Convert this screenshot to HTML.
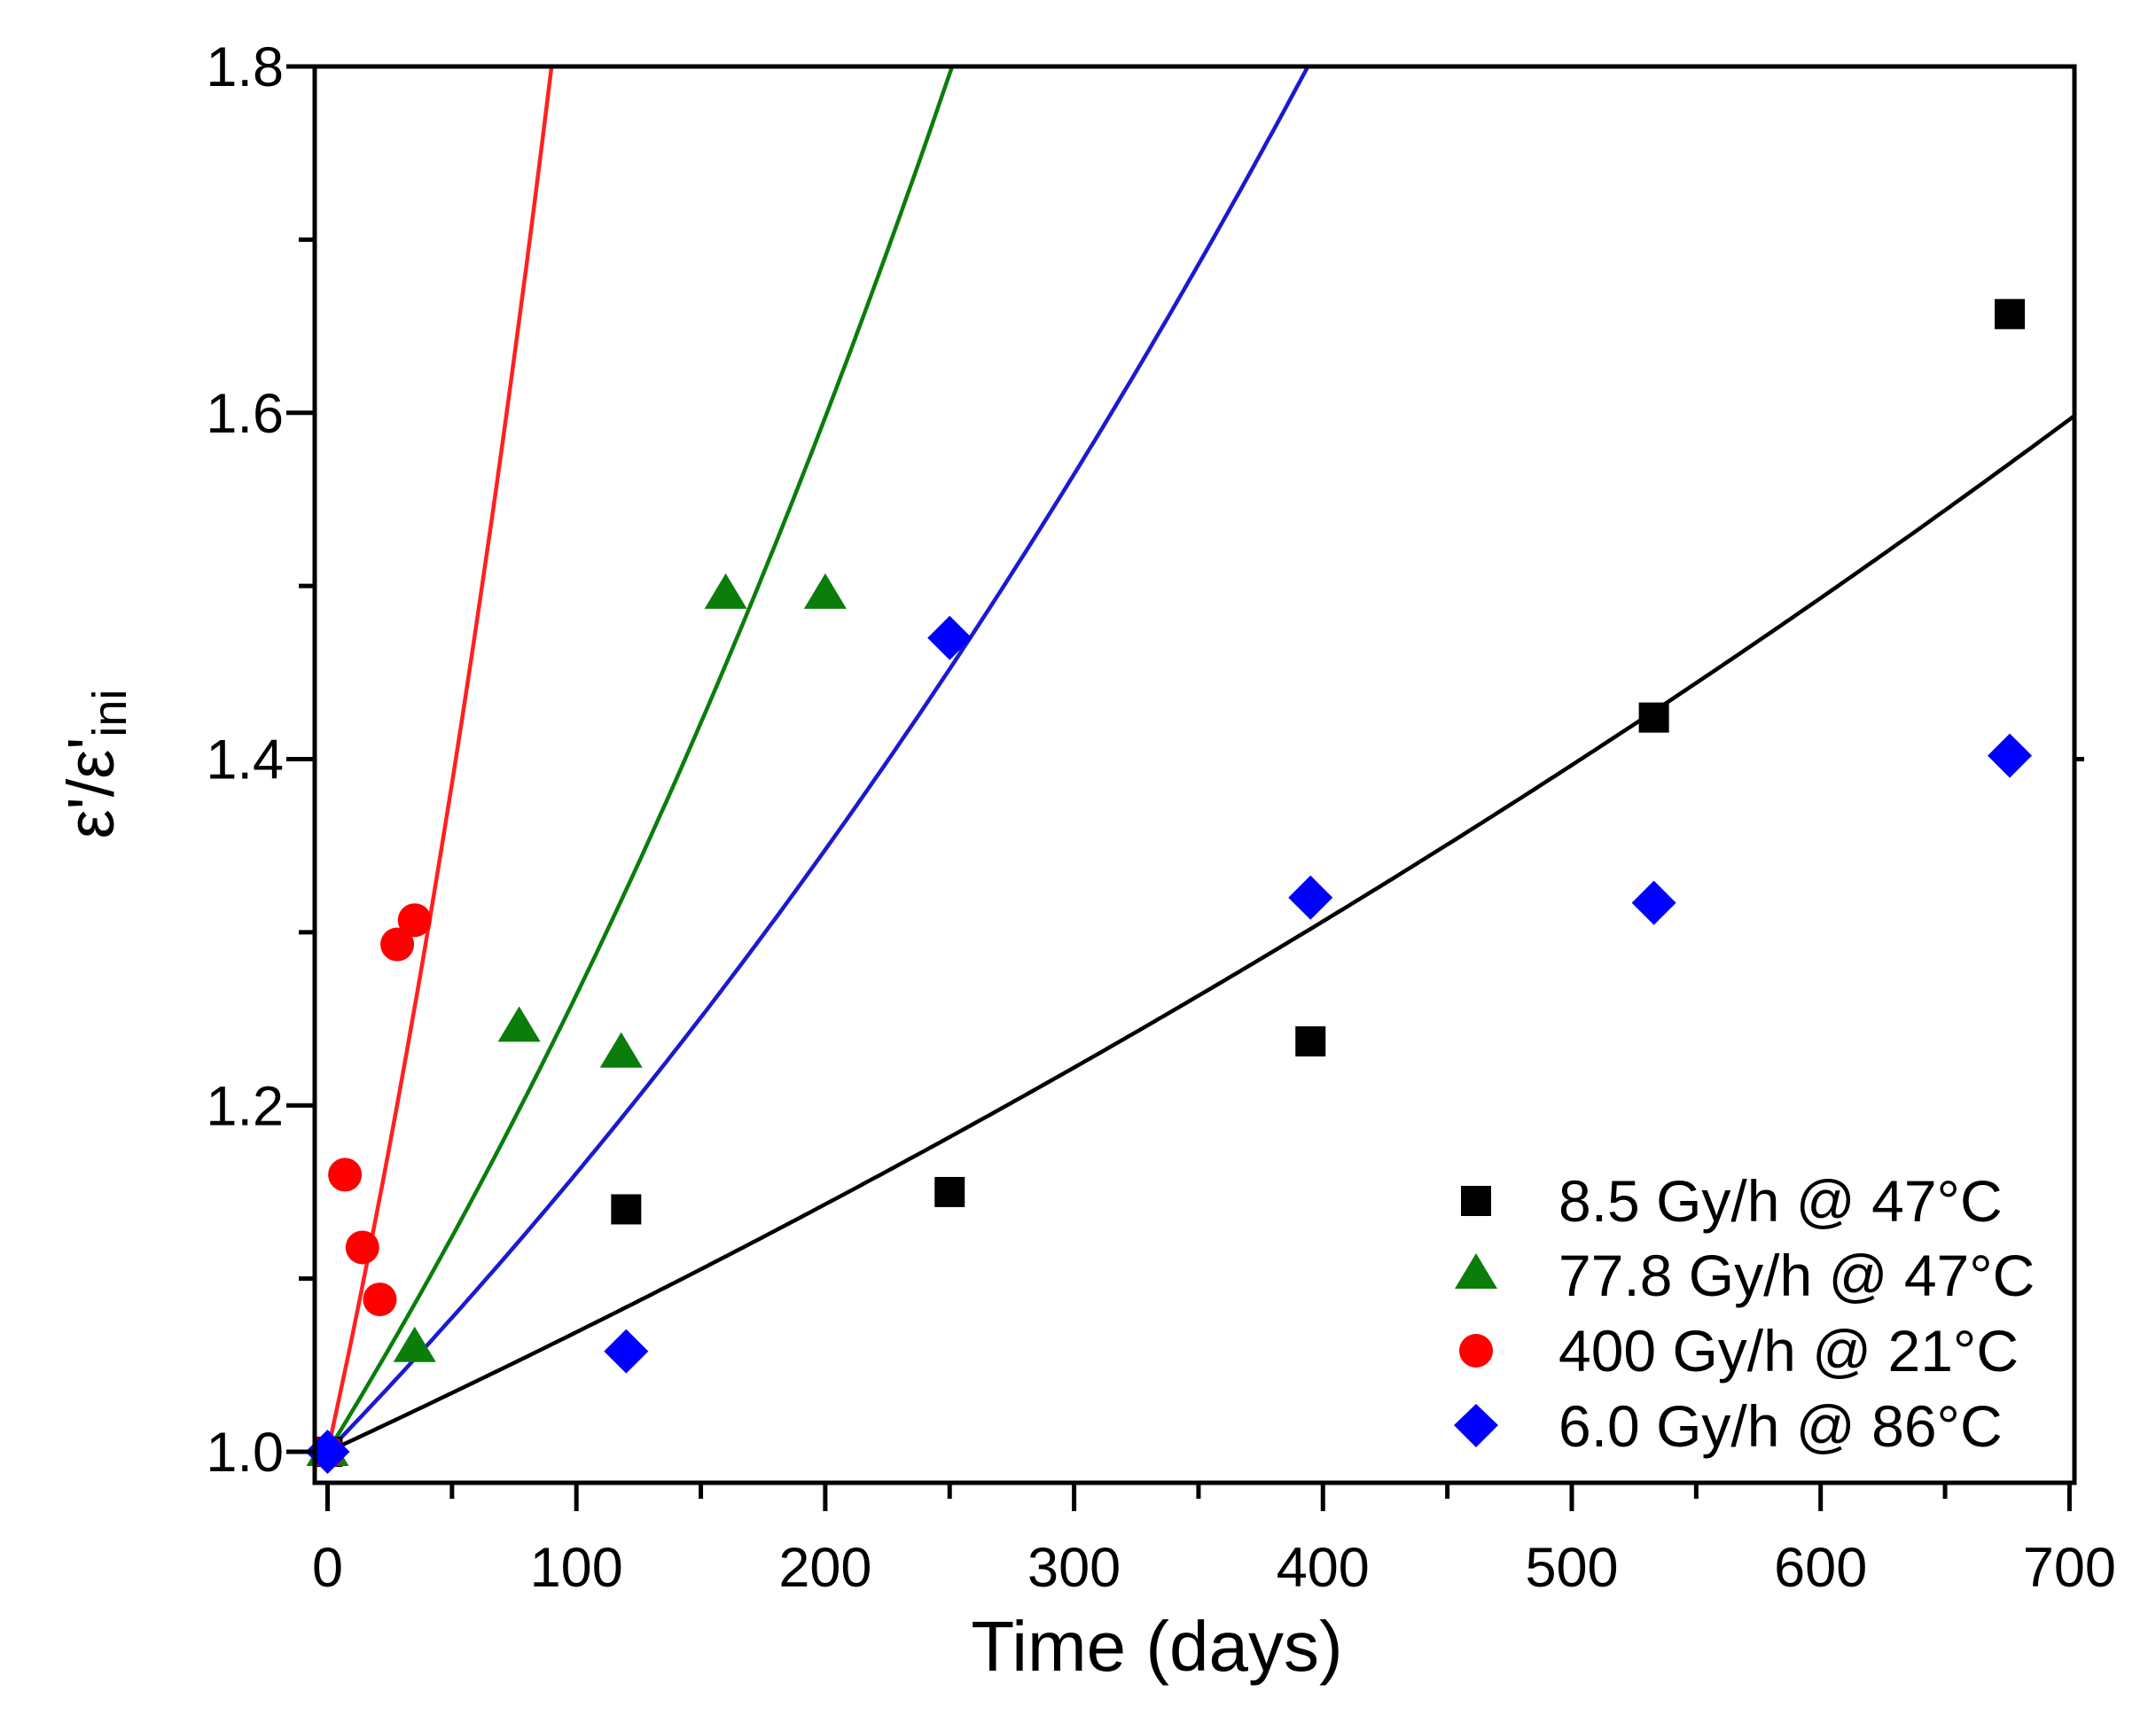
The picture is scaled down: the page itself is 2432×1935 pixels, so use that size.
<!DOCTYPE html>
<html><head><meta charset="utf-8"><style>
html,body{margin:0;padding:0;background:#fff;}
svg{display:block;}
text{font-family:"Liberation Sans",Arial,sans-serif;fill:#000;}
</style></head><body>
<svg id="s" width="2432" height="1935" viewBox="0 0 2432 1935" xmlns="http://www.w3.org/2000/svg">
<defs><clipPath id="c"><rect x="355" y="75" width="1985" height="1598"/></clipPath></defs>
<g id="curves" clip-path="url(#c)" fill="none" stroke-width="4.5"></g>
<g id="marks"></g>
<rect x="355" y="75" width="1985" height="1598" fill="none" stroke="#000" stroke-width="5"/>
<g id="ticks" stroke="#000" stroke-width="5"></g>
<g id="labels" font-size="63"></g>
<text x="1305" y="1885" font-size="80" text-anchor="middle">Time (days)</text>
<text transform="translate(128,862) rotate(-90)" font-size="74" text-anchor="middle">ε'/ε'<tspan font-size="54" dy="14">ini</tspan></text>
<g font-size="66">
<rect x="1648" y="1338" width="34" height="34" fill="#000"/>
<text x="1758" y="1378">8.5 Gy/h @ 47°C</text>
<polygon points="1665,1414 1689,1454 1641,1454" fill="#0a7d0a"/>
<text x="1758" y="1462">77.8 Gy/h @ 47°C</text>
<circle cx="1665" cy="1524" r="19" fill="#ff0000"/>
<text x="1758" y="1547">400 Gy/h @ 21°C</text>
<polygon points="1665,1584 1690,1608 1665,1633 1640,1608" fill="#0000ff"/>
<text x="1758" y="1632">6.0 Gy/h @ 86°C</text>
</g>
</svg>
<script>
const X=t=>369.5+t*2.807, Y=v=>1638-(v-1)*1953.75;
const ns="http://www.w3.org/2000/svg";
function el(p,n,a){const e=document.createElementNS(ns,n);for(const k in a)e.setAttribute(k,a[k]);p.appendChild(e);return e;}
const cv=document.getElementById('curves');
[[0.000668,'#000'],[0.001492,'#1a1ad0'],[0.002342,'#0a7d0a'],[0.00653,'#ff2020']].forEach(([k,c])=>{
 let d='';for(let t=0;t<=705;t+=2){d+=(t?'L':'M')+X(t).toFixed(1)+','+Y(Math.exp(k*t)).toFixed(1);}
 el(cv,'path',{d:d,stroke:c});
});
const mk=document.getElementById('marks');
[[0,1],[120,1.14],[250,1.15],[395,1.237],[533,1.424],[676,1.657]].forEach(([t,v])=>el(mk,'rect',{x:X(t)-17,y:Y(v)-17,width:34,height:34,fill:'#000'}));
[[0,1],[35,1.06],[77,1.245],[118,1.23],[160,1.495],[200,1.495]].forEach(([t,v])=>{const x=X(t),y=Y(v);el(mk,'polygon',{points:`${x},${y-24} ${x+24},${y+16} ${x-24},${y+16}`,fill:'#0a7d0a'});});
[[0,1],[7,1.16],[14,1.118],[21,1.088],[28,1.293],[35,1.307]].forEach(([t,v])=>el(mk,'circle',{cx:X(t),cy:Y(v),r:19,fill:'#ff0000'}));
[[0,1],[120,1.058],[250,1.47],[395,1.32],[533,1.317],[676,1.402]].forEach(([t,v])=>{const x=X(t),y=Y(v);el(mk,'polygon',{points:`${x},${y-25} ${x+25},${y} ${x},${y+25} ${x-25},${y}`,fill:'#0000ff'});});
const tk=document.getElementById('ticks'),lb=document.getElementById('labels');
for(let t=0;t<=700;t+=50){const x=X(t),maj=t%100==0;el(tk,'line',{x1:x,y1:1673,x2:x,y2:1673+(maj?32:18)});
 if(maj){const e=el(lb,'text',{x:x,y:1790,'text-anchor':'middle'});e.textContent=t;}}
for(let i=0;i<=8;i++){const v=1+i*0.1,y=Y(v),maj=i%2==0;el(tk,'line',{x1:355,y1:y,x2:355-(maj?32:18),y2:y});
 if(maj){const e=el(lb,'text',{x:320,y:y+22,'text-anchor':'end'});e.textContent=v.toFixed(1);}}
el(tk,'line',{x1:2340,y1:Y(1.4),x2:2351,y2:Y(1.4)});
</script>
</body></html>
